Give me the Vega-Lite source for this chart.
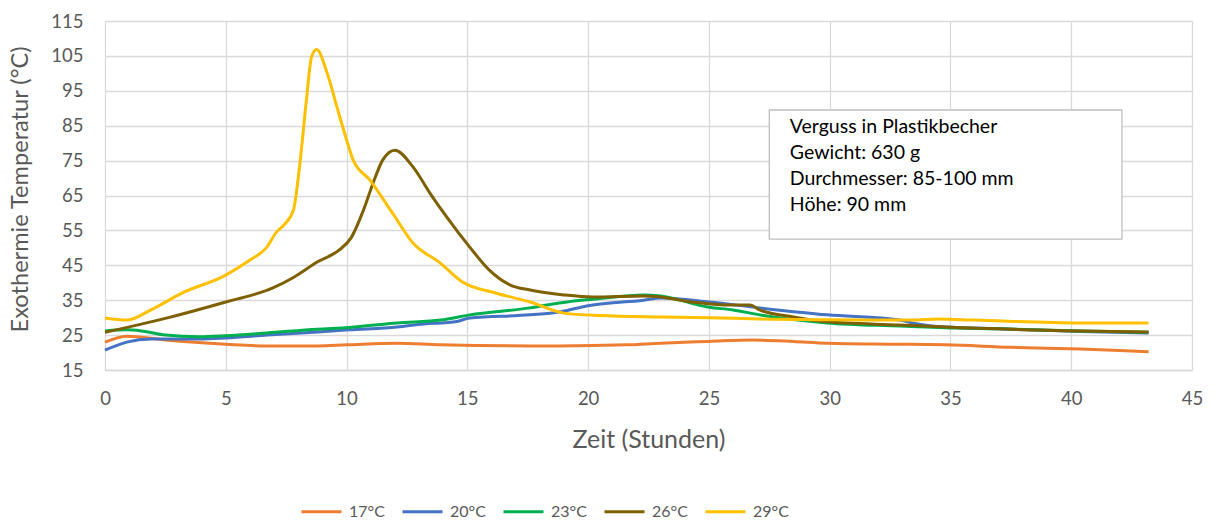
{
  "$schema": "https://vega.github.io/schema/vega-lite/v6.json",
  "autosize": {"type": "none"},
  "padding": {"left": 105, "top": 21, "right": 26, "bottom": 154},
  "width": 1087,
  "height": 349,
  "background": "white",
  "config": {
    "view": {"stroke": null},
    "font": "Lato",
    "axis": {
      "grid": true, "gridColor": "#d9d9d9", "gridWidth": 1.3,
      "ticks": false, "labelFlush": false, "labelOverlap": false,
      "labelFontSize": 18.5, "labelColor": "#595959", "labelFont": "Lato",
      "titleColor": "#595959", "titleFont": "Lato", "titleFontWeight": "normal"
    },
    "axisX": {
      "domainColor": "#d9d9d9", "domainWidth": 1.3, "tickCount": 12,
      "labelPadding": 19, "titleFontSize": 25, "titleY": 69, "titleBaseline": "middle"
    },
    "axisY": {
      "domain": false, "labelPadding": 22, "titleFontSize": 23.6, "tickCount": 12,
      "titleX": -85, "titleY": 168, "titleAngle": -90, "titleAlign": "center", "titleBaseline": "middle"
    }
  },
  "datasets": {
    "series": [
      {"t": 0, "T": 23.0, "s": "17°C"}, {"t": 0.9, "T": 24.7, "s": "17°C"}, {"t": 2.5, "T": 23.6, "s": "17°C"}, {"t": 5, "T": 22.4, "s": "17°C"}, {"t": 6.7, "T": 21.9, "s": "17°C"}, {"t": 8.8, "T": 21.9, "s": "17°C"}, {"t": 10, "T": 22.2, "s": "17°C"}, {"t": 12.1, "T": 22.7, "s": "17°C"}, {"t": 13.9, "T": 22.2, "s": "17°C"}, {"t": 17.6, "T": 21.9, "s": "17°C"}, {"t": 18.8, "T": 21.9, "s": "17°C"}, {"t": 21.6, "T": 22.2, "s": "17°C"}, {"t": 23, "T": 22.7, "s": "17°C"}, {"t": 25, "T": 23.2, "s": "17°C"}, {"t": 26.8, "T": 23.6, "s": "17°C"}, {"t": 28.5, "T": 23.2, "s": "17°C"}, {"t": 29.9, "T": 22.7, "s": "17°C"}, {"t": 32.9, "T": 22.4, "s": "17°C"}, {"t": 34.8, "T": 22.2, "s": "17°C"}, {"t": 37.5, "T": 21.5, "s": "17°C"}, {"t": 40.4, "T": 21.0, "s": "17°C"}, {"t": 42, "T": 20.6, "s": "17°C"}, {"t": 43.2, "T": 20.2, "s": "17°C"},

      {"t": 0, "T": 20.7, "s": "20°C"}, {"t": 0.9, "T": 23.0, "s": "20°C"}, {"t": 1.9, "T": 23.9, "s": "20°C"}, {"t": 3.9, "T": 23.9, "s": "20°C"}, {"t": 5, "T": 24.2, "s": "20°C"}, {"t": 6.7, "T": 25.0, "s": "20°C"}, {"t": 8.8, "T": 25.9, "s": "20°C"}, {"t": 10.1, "T": 26.5, "s": "20°C"}, {"t": 12.1, "T": 27.3, "s": "20°C"}, {"t": 13.2, "T": 28.2, "s": "20°C"}, {"t": 13.9, "T": 28.5, "s": "20°C"}, {"t": 14.5, "T": 28.8, "s": "20°C"}, {"t": 15.1, "T": 29.9, "s": "20°C"}, {"t": 17.6, "T": 30.8, "s": "20°C"}, {"t": 18.8, "T": 31.6, "s": "20°C"}, {"t": 19.7, "T": 33.0, "s": "20°C"}, {"t": 20.2, "T": 33.6, "s": "20°C"}, {"t": 22.3, "T": 35.0, "s": "20°C"}, {"t": 23, "T": 35.6, "s": "20°C"}, {"t": 25, "T": 34.5, "s": "20°C"}, {"t": 27.1, "T": 32.8, "s": "20°C"}, {"t": 29.9, "T": 30.8, "s": "20°C"}, {"t": 32.9, "T": 29.3, "s": "20°C"}, {"t": 33.4, "T": 28.5, "s": "20°C"}, {"t": 34.8, "T": 27.3, "s": "20°C"}, {"t": 37, "T": 26.8, "s": "20°C"}, {"t": 40.4, "T": 26.0, "s": "20°C"}, {"t": 43.2, "T": 25.6, "s": "20°C"},

      {"t": 0, "T": 26.2, "s": "23°C"}, {"t": 0.9, "T": 26.5, "s": "23°C"}, {"t": 1.5, "T": 26.2, "s": "23°C"}, {"t": 2.5, "T": 25.0, "s": "23°C"}, {"t": 3.9, "T": 24.5, "s": "23°C"}, {"t": 5, "T": 24.8, "s": "23°C"}, {"t": 6.7, "T": 25.6, "s": "23°C"}, {"t": 8.8, "T": 26.7, "s": "23°C"}, {"t": 10.1, "T": 27.2, "s": "23°C"}, {"t": 12.1, "T": 28.5, "s": "23°C"}, {"t": 13.9, "T": 29.3, "s": "23°C"}, {"t": 15.1, "T": 30.8, "s": "23°C"}, {"t": 17.6, "T": 32.8, "s": "23°C"}, {"t": 18.8, "T": 34.2, "s": "23°C"}, {"t": 19.7, "T": 35.0, "s": "23°C"}, {"t": 20.2, "T": 35.3, "s": "23°C"}, {"t": 22.3, "T": 36.5, "s": "23°C"}, {"t": 23, "T": 36.2, "s": "23°C"}, {"t": 25, "T": 33.0, "s": "23°C"}, {"t": 26, "T": 32.2, "s": "23°C"}, {"t": 27.1, "T": 30.8, "s": "23°C"}, {"t": 29.9, "T": 28.5, "s": "23°C"}, {"t": 32.9, "T": 27.6, "s": "23°C"}, {"t": 34.8, "T": 27.1, "s": "23°C"}, {"t": 37, "T": 26.8, "s": "23°C"}, {"t": 40.4, "T": 26.2, "s": "23°C"}, {"t": 43.2, "T": 25.8, "s": "23°C"},

      {"t": 0, "T": 25.8, "s": "26°C"}, {"t": 2.5, "T": 29.8, "s": "26°C"}, {"t": 5, "T": 34.5, "s": "26°C"}, {"t": 6.95, "T": 38.5, "s": "26°C"}, {"t": 7.8, "T": 41.5, "s": "26°C"}, {"t": 8.8, "T": 46, "s": "26°C"}, {"t": 9.7, "T": 49.4, "s": "26°C"}, {"t": 10.2, "T": 53, "s": "26°C"}, {"t": 10.7, "T": 60.8, "s": "26°C"}, {"t": 11.1, "T": 68.6, "s": "26°C"}, {"t": 11.5, "T": 75.2, "s": "26°C"}, {"t": 12.0, "T": 78, "s": "26°C"}, {"t": 12.75, "T": 73.2, "s": "26°C"}, {"t": 13.45, "T": 65.7, "s": "26°C"}, {"t": 14.15, "T": 58.8, "s": "26°C"}, {"t": 15.1, "T": 50.2, "s": "26°C"}, {"t": 15.9, "T": 43.7, "s": "26°C"}, {"t": 16.76, "T": 39.4, "s": "26°C"}, {"t": 17.6, "T": 37.9, "s": "26°C"}, {"t": 19.0, "T": 36.5, "s": "26°C"}, {"t": 20.2, "T": 35.9, "s": "26°C"}, {"t": 22.3, "T": 36.2, "s": "26°C"}, {"t": 23, "T": 35.9, "s": "26°C"}, {"t": 24.3, "T": 34.5, "s": "26°C"}, {"t": 25.7, "T": 33.6, "s": "26°C"}, {"t": 26.7, "T": 33.6, "s": "26°C"}, {"t": 27.1, "T": 32.2, "s": "26°C"}, {"t": 28.5, "T": 30.2, "s": "26°C"}, {"t": 29.9, "T": 28.8, "s": "26°C"}, {"t": 32.9, "T": 27.9, "s": "26°C"}, {"t": 34.8, "T": 27.3, "s": "26°C"}, {"t": 40.4, "T": 26.2, "s": "26°C"}, {"t": 43.2, "T": 25.9, "s": "26°C"},

      {"t": 0, "T": 29.9, "s": "29°C"}, {"t": 0.9, "T": 29.3, "s": "29°C"}, {"t": 1.9, "T": 32.2, "s": "29°C"}, {"t": 3.2, "T": 37.1, "s": "29°C"}, {"t": 5, "T": 42.2, "s": "29°C"}, {"t": 6, "T": 46.5, "s": "29°C"}, {"t": 6.7, "T": 50.2, "s": "29°C"}, {"t": 7.1, "T": 54.5, "s": "29°C"}, {"t": 7.4, "T": 56.5, "s": "29°C"}, {"t": 7.8, "T": 60.8, "s": "29°C"}, {"t": 8.07, "T": 74.3, "s": "29°C"}, {"t": 8.35, "T": 93.2, "s": "29°C"}, {"t": 8.55, "T": 104.7, "s": "29°C"}, {"t": 8.76, "T": 106.8, "s": "29°C"}, {"t": 9.2, "T": 100, "s": "29°C"}, {"t": 9.6, "T": 90.4, "s": "29°C"}, {"t": 10.0, "T": 81, "s": "29°C"}, {"t": 10.27, "T": 75.2, "s": "29°C"}, {"t": 10.97, "T": 69.4, "s": "29°C"}, {"t": 11.9, "T": 60, "s": "29°C"}, {"t": 12.75, "T": 51.4, "s": "29°C"}, {"t": 13.87, "T": 45.7, "s": "29°C"}, {"t": 14.8, "T": 40.2, "s": "29°C"}, {"t": 16.2, "T": 37, "s": "29°C"}, {"t": 17.6, "T": 34.5, "s": "29°C"}, {"t": 19.0, "T": 31.3, "s": "29°C"}, {"t": 20.5, "T": 30.6, "s": "29°C"}, {"t": 23, "T": 30.2, "s": "29°C"}, {"t": 25, "T": 30.0, "s": "29°C"}, {"t": 27.1, "T": 29.6, "s": "29°C"}, {"t": 30, "T": 29.4, "s": "29°C"}, {"t": 33.4, "T": 29.3, "s": "29°C"}, {"t": 34.5, "T": 29.6, "s": "29°C"}, {"t": 36, "T": 29.3, "s": "29°C"}, {"t": 40.4, "T": 28.5, "s": "29°C"}, {"t": 43.2, "T": 28.5, "s": "29°C"}
    ]
  },
  "layer": [
    {
      "data": {"name": "series"},
      "mark": {"type": "line", "strokeWidth": 3, "interpolate": "monotone"},
      "encoding": {
        "x": {
          "field": "t", "type": "quantitative",
          "scale": {"domain": [0, 45], "nice": false},
          "axis": {
            "title": "Zeit (Stunden)",
            "values": [0, 5, 10, 15, 20, 25, 30, 35, 40, 45]
          }
        },
        "y": {
          "field": "T", "type": "quantitative",
          "scale": {"domain": [15, 115], "nice": false, "zero": false},
          "axis": {
            "title": "Exothermie Temperatur (°C)",
            "values": [15, 25, 35, 45, 55, 65, 75, 85, 95, 105, 115]
          }
        },
        "color": {
          "field": "s", "type": "nominal",
          "scale": {"domain": ["17°C", "20°C", "23°C", "26°C", "29°C"], "range": ["#ED7D31", "#4472C4", "#00B050", "#7F6000", "#FFC000"]},
          "legend": {
            "title": null,
            "orient": "none",
            "direction": "horizontal",
            "legendX": 195,
            "legendY": 469,
            "symbolType": "stroke",
            "symbolSize": 1600,
            "symbolStrokeWidth": 3,
            "labelFontSize": 16,
            "labelColor": "#595959",
            "labelFont": "Lato",
            "labelOffset": 6,
            "columnPadding": 11
          }
        }
      }
    },
    {
      "data": {"values": [{}]},
      "mark": {"type": "rect", "fill": "white", "stroke": "#bfbfbf", "strokeWidth": 1.3},
      "encoding": {
        "x": {"datum": 27.5, "type": "quantitative"},
        "x2": {"datum": 42.1},
        "y": {"datum": 89.5, "type": "quantitative"},
        "y2": {"datum": 52.5}
      }
    },
    {
      "data": {"values": [{}]},
      "mark": {
        "type": "text",
        "text": ["Verguss in Plastikbecher", "Gewicht: 630 g", "Durchmesser: 85-100 mm", "Höhe: 90 mm"],
        "align": "left", "baseline": "middle", "lineHeight": 26,
        "fontSize": 19.5, "font": "Lato", "color": "#000000"
      },
      "encoding": {
        "x": {"datum": 28.35, "type": "quantitative"},
        "y": {"datum": 84.6, "type": "quantitative"}
      }
    }
  ]
}
